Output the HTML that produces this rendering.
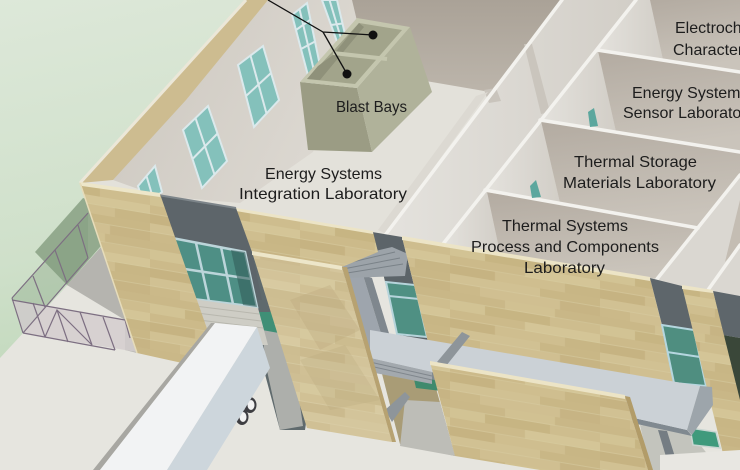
<!DOCTYPE html>
<html><head><meta charset="utf-8">
<style>html,body{margin:0;padding:0;background:#fff;overflow:hidden}svg{display:block}</style>
</head><body>
<svg width="740" height="470" viewBox="0 0 740 470" xmlns="http://www.w3.org/2000/svg">
<defs>
<linearGradient id="grass" x1="0" y1="0" x2="0.35" y2="1">
<stop offset="0" stop-color="#dde8d9"/><stop offset="0.5" stop-color="#cfe0ca"/><stop offset="1" stop-color="#b4d1ae"/>
</linearGradient>
<linearGradient id="taupe" x1="0" y1="0" x2="0" y2="1"><stop offset="0" stop-color="#aaa297"/><stop offset="1" stop-color="#bcb5ab"/></linearGradient>
<linearGradient id="back" x1="0" y1="0" x2="0.2" y2="1"><stop offset="0" stop-color="#b3aba1"/><stop offset="1" stop-color="#cac4bb"/></linearGradient>
<linearGradient id="side" x1="0" y1="0" x2="1" y2="0"><stop offset="0" stop-color="#e4e2dd"/><stop offset="1" stop-color="#d2cec7"/></linearGradient>
<linearGradient id="wall" x1="0" y1="0" x2="1" y2="0.4"><stop offset="0" stop-color="#ccc7bf"/><stop offset="1" stop-color="#dcd8d1"/></linearGradient>
<pattern id="tan" width="150" height="54" patternUnits="userSpaceOnUse" patternTransform="skewY(9.5)">
<rect width="150" height="54" fill="#cdbc8d"/>
<rect x="0" y="0" width="55" height="9" fill="#cab888"/><rect x="55" y="0" width="50" height="9" fill="#d1c192"/><rect x="105" y="0" width="45" height="9" fill="#c9b787"/>
<rect x="0" y="9" width="35" height="9" fill="#d2c394"/><rect x="35" y="9" width="65" height="9" fill="#c7b583"/><rect x="100" y="9" width="50" height="9" fill="#cebd8e"/>
<rect x="0" y="18" width="75" height="9" fill="#ccba8a"/><rect x="75" y="18" width="75" height="9" fill="#d4c597"/>
<rect x="0" y="27" width="45" height="9" fill="#c6b382"/><rect x="45" y="27" width="70" height="9" fill="#cfbe8f"/><rect x="115" y="27" width="35" height="9" fill="#c8b685"/>
<rect x="0" y="36" width="90" height="9" fill="#d1c193"/><rect x="90" y="36" width="60" height="9" fill="#c9b786"/>
<rect x="0" y="45" width="30" height="9" fill="#cbb989"/><rect x="30" y="45" width="80" height="9" fill="#d0bf91"/><rect x="110" y="45" width="40" height="9" fill="#c7b484"/>
<rect x="0" y="8" width="150" height="1" fill="#d6c99f" opacity="0.6"/><rect x="0" y="26" width="150" height="1" fill="#d6c99f" opacity="0.6"/><rect x="0" y="44" width="150" height="1" fill="#d6c99f" opacity="0.6"/>
</pattern>
</defs>

<!-- grass & ground -->
<rect width="740" height="470" fill="url(#grass)"/>
<polygon points="0,358 135,212 740,212 740,470 0,470" fill="#e6e5df"/>
<polygon points="35,252 83,198 130,212 100,247 67,285" fill="#93aa8e"/>
<polygon points="67,285 101,247 137,353 125,350 125,320" fill="#b5b4af"/>
<!-- fence -->
<polygon points="12,298 88,213 88,258 23,333" fill="#7a9878" opacity="0.3"/>
<polygon points="12,300 125,320 137,352 23,333" fill="#d4cecf" opacity="0.85"/>
<g stroke="#7d6f82" stroke-width="1.2" fill="none">
<polyline points="12,298 88,213"/><polyline points="23,333 88,258"/>
<line x1="12" y1="298" x2="23" y2="333"/><line x1="33" y1="276" x2="45" y2="307"/><line x1="55" y1="250" x2="67" y2="283"/><line x1="78" y1="225" x2="88" y2="258"/>
<polyline points="12,300 125,320"/><polyline points="23,333 115,350"/>
<line x1="33" y1="303" x2="45" y2="337"/><line x1="80" y1="312" x2="92" y2="345"/><line x1="103" y1="317" x2="115" y2="350"/><line x1="125" y1="320" x2="130" y2="338"/>
<polyline points="45,337 57,310 92,345"/><line x1="57" y1="310" x2="68" y2="342"/>
</g>

<!-- interior floor -->
<polygon points="80,183 246,0 740,0 740,300 400,240 158,195" fill="#e3e1da"/>
<!-- taupe back -->
<polygon points="345,0 565,0 490,92 420,80 360,42" fill="url(#taupe)"/>
<!-- window wall -->
<polygon points="268,0 352,0 358,25 313,152 240,203 158,196 113,180" fill="url(#wall)"/>
<!-- windows -->
<g fill="#84c1bb" stroke="#dbe9ec" stroke-width="2">
<polygon points="238,65 263,46 279,100 254,127"/>
<polygon points="183,130 208,106 227,161 202,188"/>
<polygon points="138,186 155,166 162,192 144,205"/>
<polygon points="292,15 307,3 323,80 310,83"/>
<polygon points="322,0 337,0 348,47 340,50"/>
</g>
<g stroke="#dbe9ec" stroke-width="2">
<line x1="250.5" y1="55.5" x2="266.5" y2="113.5"/><line x1="246" y1="96" x2="271" y2="73"/>
<line x1="195.5" y1="118" x2="214.5" y2="174.5"/><line x1="192.5" y1="159" x2="217.5" y2="133.5"/>
<line x1="146.5" y1="176" x2="153" y2="198"/>
<line x1="299.5" y1="9" x2="316.5" y2="81.5"/><line x1="301" y1="49" x2="315" y2="41.5"/><line x1="296" y1="30" x2="310" y2="20"/>
<line x1="329.5" y1="0" x2="344" y2="48.5"/><line x1="331" y1="25" x2="342.5" y2="23.5"/>
</g>
<!-- rim -->
<polygon points="246,0 268,0 186,100 113,180 80,183" fill="#cdbc90"/>
<polyline points="246,0 80,183" stroke="#ebe7d8" stroke-width="3" fill="none"/>

<!-- corridor wall -->
<polygon points="562,0 636,0 443,244 386,234" fill="url(#side)"/>
<polygon points="524,44 532,44 550,112 541,114" fill="#cac5bd"/>
<polygon points="484,90 496,88 501,101 489,103" fill="#c9c4bc"/>
<polygon points="488,92 476,96 378,230 386,234" fill="#dcd9d2"/>
<!-- rooms -->
<polygon points="636,0 650,0 663,60 597,50" fill="url(#side)"/>
<polygon points="650,0 740,0 740,72 663,60" fill="url(#back)"/>
<polygon points="597,50 598,51 616,132 540,120" fill="url(#side)"/>
<polygon points="598,51 740,72 740,153 616,132" fill="url(#back)"/>
<polygon points="540,120 541,121 560,203 485,190" fill="url(#side)"/>
<polygon points="541,121 740,153 740,175 698,228 560,203" fill="url(#back)"/>
<polygon points="485,190 487,192 500,253 443,244" fill="url(#side)"/>
<polygon points="487,192 698,228 657,279 500,253" fill="url(#back)"/>
<polygon points="740,175 740,300 712,291 682,287 657,279" fill="#dad7d1"/>
<polygon points="740,200 740,245 725,262" fill="#c4bdb3"/>
<!-- rims -->
<g stroke="#f3f2ee" stroke-width="3.5" fill="none" stroke-linecap="round">
<line x1="636" y1="0" x2="443" y2="244"/>
<line x1="562" y1="0" x2="386" y2="234"/>
<line x1="597" y1="50" x2="740" y2="72"/>
<line x1="540" y1="120" x2="740" y2="152"/>
<line x1="485" y1="190" x2="698" y2="228"/>
<line x1="740" y1="175" x2="657" y2="279"/>
<line x1="740" y1="245" x2="708" y2="290"/>
</g>
<polygon points="588,112 594,108 598,126 590,127" fill="#5ca79e"/>
<polygon points="530,186 536,180 541,197 532,198" fill="#5ca79e"/>

<!-- blast bays -->
<polygon points="300,82 357,88 372,152 308,150" fill="#9b9c84"/>
<polygon points="357,88 410,27 432,92 372,152" fill="#b0b29a"/>
<polygon points="300,82 357,88 410,27 357,18" fill="#c4c6ae"/>
<polygon points="307,79 355,84 402,30 359,23" fill="#a2a48b"/>
<polygon points="307,79 318,66 333,55 359,23 364,27 320,80" fill="#8f917a"/>
<line x1="333" y1="53" x2="387" y2="59" stroke="#c4c6ae" stroke-width="4"/>

<!-- leader lines -->
<g stroke="#111" stroke-width="1.3" fill="none">
<polyline points="268,0 323,32 373,35"/><line x1="323" y1="32" x2="347" y2="74"/>
</g>
<circle cx="373" cy="35" r="4.5" fill="#111"/><circle cx="347" cy="74" r="4.5" fill="#111"/>

<!-- facade: back parts -->
<polygon points="240,250 300,258 320,330 305,430 280,430 245,300" fill="#5f6a6d"/>
<polygon points="258,312 272,312 287,365 272,365" fill="#3f8f76"/>
<polygon points="262,330 290,335 303,426 280,430 266,366" fill="#adafab"/>
<polygon points="372,232 402,237 430,350 400,345 378,252" fill="#5c6469"/>
<polygon points="386,282 415,285 427,337 397,334" fill="#4f9083" stroke="#b6d4db" stroke-width="2"/>
<line x1="389" y1="296" x2="419" y2="299" stroke="#b6d4db" stroke-width="2"/>
<polygon points="345,267 363,275 387,353 370,353" fill="#9ea5ad"/>
<polygon points="363,275 372,278 395,353 387,353" fill="#7f878e"/>
<polygon points="330,262 392,247 408,254 405,276 345,278" fill="#9ca3a9"/>
<g stroke="#7a8288" stroke-width="1"><line x1="335" y1="266" x2="395" y2="252"/><line x1="338" y1="270" x2="400" y2="258"/><line x1="341" y1="274" x2="403" y2="264"/><line x1="318" y1="262" x2="367" y2="240"/></g>

<!-- P2 -->
<polygon points="236,210 373,232 378,252 342,267 252,252" fill="url(#tan)"/>
<polygon points="236,208 373,231 373,234 236,211" fill="#ece4c6"/>
<!-- dark panel left + windows -->
<polygon points="158,195 236,208 252,252 262,300 185,298" fill="#5d656a"/>
<polyline points="158,195 236,208" stroke="#7d858a" stroke-width="2" fill="none"/>
<polygon points="172,238 245,252 257,307 185,298" fill="#4e8f85" stroke="#bcd5da" stroke-width="2.5"/>
<g stroke="#bcd5da" stroke-width="2.5"><line x1="196" y1="243" x2="209" y2="301"/><line x1="221" y1="247" x2="233" y2="304"/><line x1="178" y1="268" x2="251" y2="279"/></g>
<polygon points="231,250 245,252 257,307 243,305" fill="#2f5a55" opacity="0.55"/>
<polygon points="185,298 258,308 268,345 200,345" fill="#cecdc5"/>
<g stroke="#b8b7ae" stroke-width="1"><line x1="187" y1="305" x2="259" y2="314"/><line x1="189" y1="312" x2="261" y2="321"/><line x1="191" y1="319" x2="263" y2="328"/></g>
<!-- P1 -->
<polygon points="80,183 160,194 212,343 200,367 137,353" fill="url(#tan)"/>
<polygon points="80,182 160,193 160,197 82,186" fill="#ede6c9"/>
<polyline points="80,183 137,353" stroke="#e6dcba" stroke-width="1.5" fill="none"/>

<!-- P4 -->
<polygon points="402,237 650,278 677,385 430,350" fill="url(#tan)"/>
<polygon points="402,236 650,277 650,281 402,240" fill="#ece4c6"/>
<!-- right side -->
<polygon points="650,278 682,286 694,330 662,325" fill="#5e666b"/>
<polygon points="662,325 694,330 706,386 674,383" fill="#4f8e80" stroke="#b5d6df" stroke-width="2"/>
<line x1="667" y1="352" x2="700" y2="357" stroke="#b5d6df" stroke-width="2"/>
<polygon points="713,291 740,296 740,338 723,335" fill="#5e666b"/>
<polygon points="723,335 740,338 740,400 735,400" fill="#3a4739"/>
<polygon points="682,286 713,291 740,400 740,470 727,470" fill="url(#tan)"/>
<polygon points="682,285 713,290 713,293 682,289" fill="#ece4c6"/>
<!-- under walkway right -->
<polygon points="640,425 690,432 720,470 650,470" fill="#c3c4bd"/>
<polygon points="658,430 667,431 679,470 670,470" fill="#757d83"/>
<polygon points="690,428 716,432 720,448 693,445" fill="#3f9a7c" stroke="#c9d6d2" stroke-width="1.5"/>
<polygon points="660,455 740,450 740,470 660,470" fill="#e8e7e2"/>
<!-- under walkway left -->
<polygon points="380,366 432,374 455,456 400,444" fill="#a99c76"/>
<polygon points="405,400 440,402 455,456 400,446" fill="#bdbdb7"/>
<polygon points="413,375 447,380 450,392 416,388" fill="#3f8a6d"/>
<polygon points="385,410 405,392 410,397 392,422" fill="#8e959a"/>
<!-- walkway -->
<polygon points="370,358 687,430 692,436 370,366" fill="#808990"/>
<polygon points="370,330 700,386 687,430 370,358" fill="#cbd1d6"/>
<polygon points="700,386 712,387 713,405 692,435 687,430" fill="#9da5ab"/>
<polygon points="370,358 432,372 432,384 370,372" fill="#a3a9ae"/>
<g stroke="#80878d" stroke-width="1"><line x1="370" y1="362" x2="432" y2="376"/><line x1="370" y1="366" x2="432" y2="380"/></g>
<polygon points="437,362 462,332 470,336 446,366" fill="#8e959a"/>
<!-- P5 -->
<polygon points="430,362 625,396 648,470 540,470 455,456" fill="url(#tan)"/>
<polygon points="625,396 630,397 653,470 648,470" fill="#b29c69"/>
<polygon points="430,361 625,395 625,399 430,365" fill="#ece4c6"/>
<!-- P3 -->
<polygon points="252,252 342,267 392,442 307,428" fill="url(#tan)"/>
<polygon points="252,252 342,267 392,442 307,428" fill="#fff" opacity="0.1"/>
<polygon points="290,300 330,285 360,330 320,350" fill="#b9a67a" opacity="0.3"/>
<polygon points="300,360 345,345 380,400 330,410" fill="#b9a67a" opacity="0.25"/>
<polygon points="342,267 347,267 396,442 392,442" fill="#b7a271"/>
<polygon points="252,251 342,266 342,270 252,255" fill="#ede6c9"/>

<!-- truck -->
<ellipse cx="250" cy="405" rx="6.5" ry="8" fill="#3e3e42"/><ellipse cx="251" cy="405" rx="3.5" ry="5" fill="#f2f2f2"/>
<ellipse cx="242" cy="417" rx="6.5" ry="8" fill="#3e3e42"/><ellipse cx="243" cy="417" rx="3.5" ry="5" fill="#f2f2f2"/>
<polygon points="211,323 215,323 100,470 93,470" fill="#a8a7a2"/>
<polygon points="215,323 257,327 167,470 100,470" fill="#f2f3f4"/>
<polygon points="257,327 270,368 207,470 167,470" fill="#cdd6dc"/>

<!-- labels -->
<g font-family="'Liberation Sans', sans-serif" font-size="16" fill="#1d1d1d">
<text x="336" y="112" textLength="71" lengthAdjust="spacingAndGlyphs">Blast Bays</text>
<text x="265" y="179" textLength="117" lengthAdjust="spacingAndGlyphs">Energy Systems</text>
<text x="239" y="199" textLength="168" lengthAdjust="spacingAndGlyphs">Integration Laboratory</text>
<text x="675" y="33">Electrochemical</text>
<text x="673" y="55">Characterization</text>
<text x="632" y="98">Energy Systems</text>
<text x="623" y="118">Sensor Laboratory</text>
<text x="574" y="167" textLength="123" lengthAdjust="spacingAndGlyphs">Thermal Storage</text>
<text x="563" y="188" textLength="153" lengthAdjust="spacingAndGlyphs">Materials Laboratory</text>
<text x="502" y="231" textLength="126" lengthAdjust="spacingAndGlyphs">Thermal Systems</text>
<text x="471" y="252" textLength="188" lengthAdjust="spacingAndGlyphs">Process and Components</text>
<text x="524" y="273" textLength="81" lengthAdjust="spacingAndGlyphs">Laboratory</text>
</g>
</svg>
</body></html>
